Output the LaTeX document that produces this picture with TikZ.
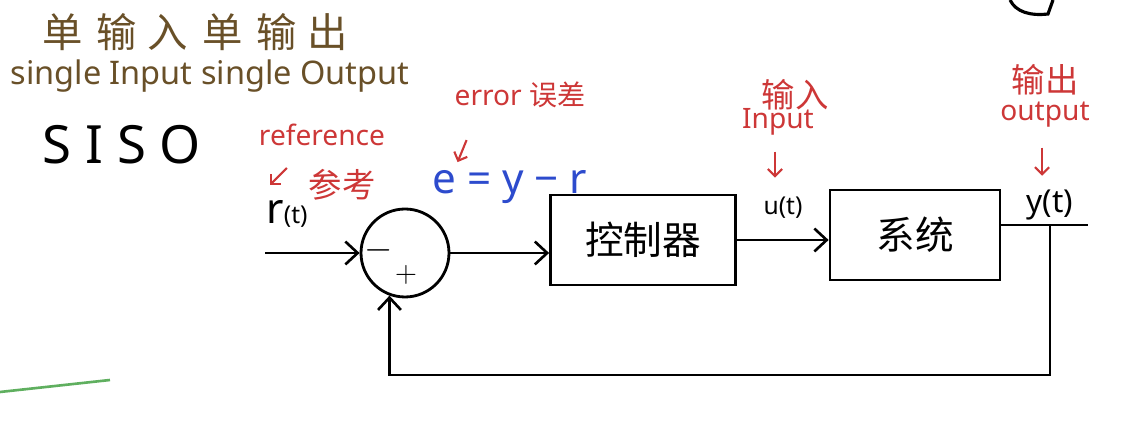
\documentclass[tikz,border=0pt]{standalone}
\usepackage{fontspec}
\setmainfont{Noto Sans}
\newfontfamily\cjk{Noto Sans CJK SC}
\usepackage{xcolor}
\usepackage{tikz}
\usetikzlibrary{arrows.meta}
\definecolor{Marron}{RGB}{105,80,40}
\definecolor{RojoNota}{RGB}{205,55,55}
\definecolor{AzulError}{RGB}{45,75,205}
\definecolor{VerdeLinea}{RGB}{95,175,95}
\tikzset{
  bloque/.style={draw,line width=1.6pt,minimum width=3.7cm,minimum height=1.8cm,font=\cjk\fontsize{22}{22}\selectfont},
  nota/.style={text=RojoNota,inner sep=1pt,font=\fontsize{16}{16}\selectfont},
  notazh/.style={text=RojoNota,inner sep=1pt,font=\cjk\fontsize{19}{19}\selectfont},
  flecha/.style={->,line width=1.5pt},
  notaflecha/.style={->,RojoNota,line width=1.2pt,>={Straight Barb[length=4pt,width=8pt]}}
}

\begin{document}
\begin{tikzpicture}[x=0.02cm,y=-0.02cm,>={Straight Barb[length=7pt,width=13pt]}]
  \useasboundingbox (0,0) rectangle (1122,421);
  % title
  \node[text=Marron,inner sep=0pt,font=\cjk\fontsize{23}{23}\selectfont] (titulo) at (195,32)
    {单\hspace{8pt}输\hspace{6pt}入\hspace{8pt}单\hspace{8pt}输\hspace{6pt}出};
  \node[text=Marron,inner sep=0pt,font=\fontsize{18.5}{18.5}\selectfont] (ingles) at (210,76) {single Input single Output};
  \node[font=\fontsize{30}{30}\selectfont] (siso) at (122,145) {S I S O};
  % blocks
  \node[draw,circle,minimum size=1.76cm,line width=1.6pt] (suma) at (405,253) {};
  \node[font=\fontsize{20}{20}\selectfont] (menos) at (379,250) {$-$};
  \node[font=\fontsize{18}{18}\selectfont] (mas) at (406,275) {$+$};
  \node[bloque] (ctrl) at (643,240) {控制器};
  \node[bloque,minimum width=3.4cm] (planta) at (915,235) {系统};
  \coordinate (rin) at (265,253);
  \coordinate (tap) at (1050,225);
  \coordinate (yout) at (1088,225);
  \coordinate (fb) at (700,375);
  \draw[flecha] (rin) -- (suma.west);
  \draw[flecha] (suma.east) -- (suma.east -| ctrl.west);
  \draw[flecha] (ctrl.east) -- (ctrl.east -| planta.west);
  \draw[line width=1.6pt] (planta.east |- tap) -- (yout);
  \draw[flecha] (tap) |- (fb) -| (suma.250);
  % signals
  \node[font=\fontsize{24}{24}\selectfont] (rt) at (287,214) {r\fontsize{14}{14}\selectfont(t)};
  \node[font=\fontsize{14}{14}\selectfont] (ut) at (783,208) {u(t)};
  \node[font=\fontsize{18}{18}\selectfont] (yt) at (1050,205) {y(t)};
  \node[text=AzulError,font=\fontsize{24}{24}\selectfont] (err) at (510,187) {e = y − r};
  % notes
  \node[nota] (ref) at (322,135) {reference};
  \node[notazh] (canzao) at (342,185) {参考};
  \node[nota] (errnota) at (520,95) {error {\cjk 误差}};
  \node[notazh] (inzh) at (795,95) {输入};
  \node[nota] (inen) at (778,122) {Input};
  \node[notazh] (outzh) at (1045,80) {输出};
  \node[nota] (outen) at (1045,115) {output};
  \draw[notaflecha] ([shift={(30,20)}]ref.south west) -- ++(-17,17);
  \draw[notaflecha] ([shift={(14,30)}]errnota.south west) -- ++(-9,22);
  \draw[notaflecha] ([shift={(-3,14)}]inen.south) -- ++(0,26);
  \draw[notaflecha] ([shift={(-3,18)}]outen.south) -- ++(0,28);
  % leftovers at the edges
  \draw[VerdeLinea,line width=1.5pt] (0,392) -- (110,380);
  \draw[line width=1.8pt] (1010,0) .. controls (1016,12) and (1030,16) .. (1048,14) -- (1053,0);
\end{tikzpicture}
\end{document}
